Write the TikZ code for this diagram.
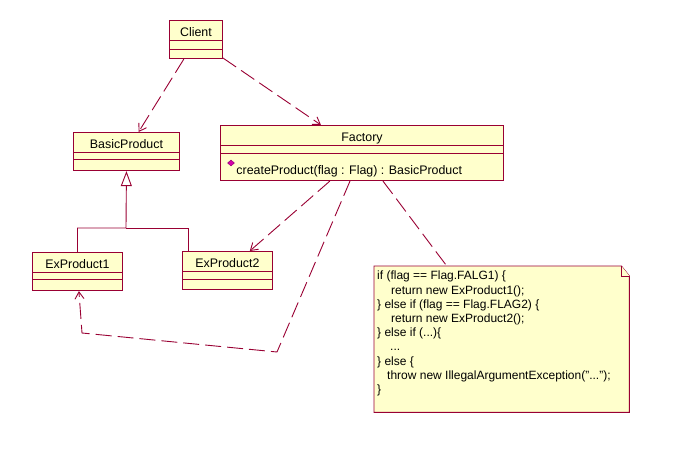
\documentclass[tikz,border=0pt]{standalone}
\usepackage{fontspec}
\setmainfont{Liberation Sans}
\usetikzlibrary{shapes.multipart,shapes.geometric,arrows.meta,calc}
\definecolor{roseline}{RGB}{153,0,51}
\definecolor{rosefill}{RGB}{255,255,204}
\definecolor{roseicon}{RGB}{214,0,170}
\newcommand{\namestrut}{\rule[-3.5pt]{0pt}{19.5pt}}
\begin{document}
\begin{tikzpicture}[x=1pt,y=-1pt]
            \tikzset{Class/.style={%
                    rectangle split,%
                    rectangle split parts=3,%
                    rectangle split part align={center,center,left},%
                    draw=roseline,%
                    fill=rosefill,%
                    line width=0.9pt,%
                    inner xsep=3pt,%
                    inner ysep=0pt,%
                    anchor=north west,%
                    font=\fontsize{12.4}{15}\selectfont,%
                },
                Depend/.style={%
                    draw=roseline,%
                    line width=0.9pt,%
                    dash pattern=on 16pt off 6pt,%
                    -{Straight Barb[length=7pt,width=9pt]},%
                },
                Anchor/.style={%
                    draw=roseline,%
                    line width=0.9pt,%
                    dash pattern=on 16pt off 6pt,%
                },
                Generalize/.style={%
                    draw=roseline,%
                    line width=0.9pt,%
                    -{Triangle[open,length=15pt,width=11pt]},%
                },
                NoteLine/.style={%
                    draw=roseline,%
                    fill=rosefill,%
                    line width=0.9pt,%
                },
                OpIcon/.style={%
                    shape=diamond,%
                    draw=roseicon!70!black,%
                    fill=roseicon,%
                    line width=0.5pt,%
                    minimum width=7pt,%
                    minimum height=6pt,%
                    inner sep=0pt,%
                }}

                \useasboundingbox (0,0) rectangle (696,471);

                \node[Class, minimum width=53pt] (client) at (169,20)
                    {\namestrut Client\nodepart{two}\rule{0pt}{8pt}\nodepart{three}\rule{0pt}{8pt}};
                \node[Class, minimum width=106pt] (basic) at (73,132)
                    {\namestrut BasicProduct\nodepart{two}\rule{0pt}{6pt}\nodepart{three}\rule{0pt}{10pt}};
                \node[Class, minimum width=283pt] (factory) at (220,125)
                    {\namestrut Factory\nodepart{two}\rule{0pt}{7pt}%
                     \nodepart{three}\rule[-6pt]{0pt}{26pt}\hspace{13pt}createProduct(flag : Flag) : BasicProduct};
                \node[Class, minimum width=90pt] (ex1) at (32,252)
                    {\namestrut ExProduct1\nodepart{two}\rule{0pt}{6pt}\nodepart{three}\rule{0pt}{10pt}};
                \node[Class, minimum width=90pt] (ex2) at (182,251)
                    {\namestrut ExProduct2\nodepart{two}\rule{0pt}{7pt}\nodepart{three}\rule{0pt}{9pt}};
                \node[OpIcon] (icon) at (231,163) {};

                % note with the code
                \node[minimum width=255pt, minimum height=146pt, anchor=north west, inner sep=0pt] (note) at (374,266) {};
                \draw[NoteLine] (note.north west) -- ($(note.north east)+(-8,0)$) -- ($(note.north east)+(0,10)$)
                    -- (note.south east) -- (note.south west) -- cycle;
                \draw[NoteLine] ($(note.north east)+(-8,0)$) |- ($(note.north east)+(0,10)$);
                \node[anchor=north west, align=left, inner sep=0pt, font=\fontsize{12}{14.2}\selectfont] (code) at (377,271)
                    {if (flag == Flag.FALG1) \{\\
                     \hspace*{14pt}return new ExProduct1();\\
                     \} else if (flag == Flag.FLAG2) \{\\
                     \hspace*{14pt}return new ExProduct2();\\
                     \} else if (...)\{\\
                     \hspace*{13pt}...\\
                     \} else \{\\
                     \hspace*{10pt}throw new IllegalArgumentException("...");\\
                     \}};

                \coordinate (fork) at (126,228);
                \coordinate (bend1) at (277,352);
                \coordinate (bend2) at (82,333);

                \path (client) edge[Depend] (basic);
                \path (client) edge[Depend] (factory);
                \path (factory) edge[Depend] (ex2);
                \path (factory) edge[Anchor] (note);
                \draw[Depend] (factory) -- (bend1) -- (bend2) -- (ex1);
                \draw[Generalize] (ex1.north) |- (fork) -- (basic.south);
                \draw[Generalize, -] ($(ex2.north west)+(6,0)$) |- (fork);
\end{tikzpicture}
\end{document}
